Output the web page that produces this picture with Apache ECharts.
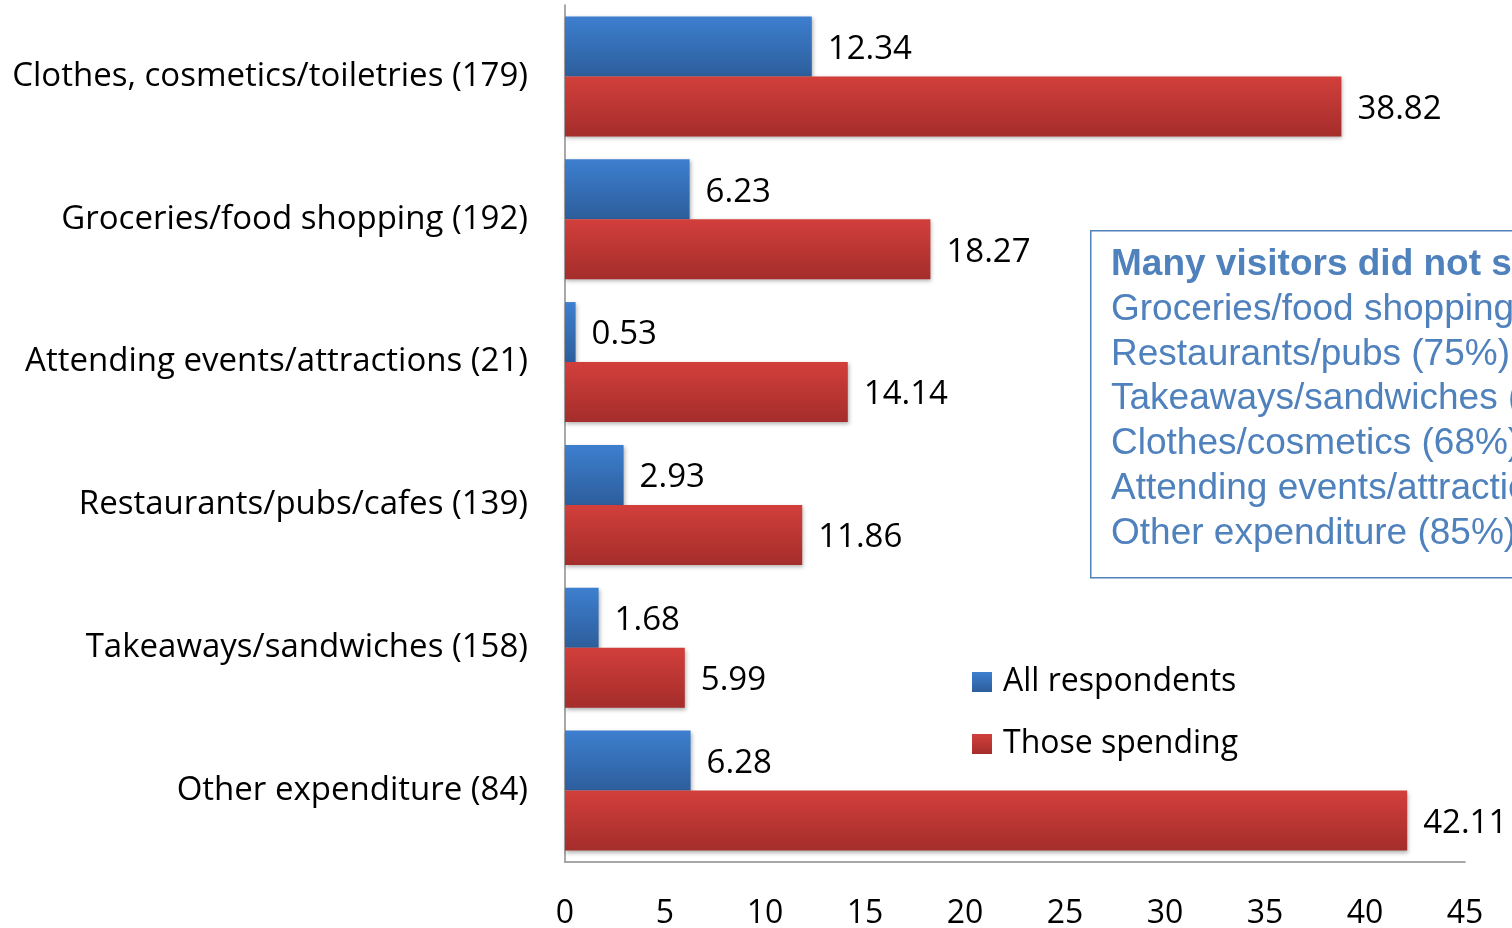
<!DOCTYPE html>
<html>
<head>
<meta charset="utf-8">
<script src="https://cdn.jsdelivr.net/npm/echarts@6/dist/echarts.min.js"></script>
<style>
html,body{margin:0;padding:0;background:#fff;}
#c{width:1512px;height:928px;}
</style>
</head>
<body>
<div id="c"></div>
<script>
const categories = [
  'Clothes, cosmetics/toiletries (179)',
  'Groceries/food shopping (192)',
  'Attending events/attractions (21)',
  'Restaurants/pubs/cafes (139)',
  'Takeaways/sandwiches (158)',
  'Other expenditure (84)'
];
const allRespondents = [12.34, 6.23, 0.53, 2.93, 1.68, 6.28];
const thoseSpending = [38.82, 18.27, 14.14, 11.86, 5.99, 42.11];
const xTicks = [0, 5, 10, 15, 20, 25, 30, 35, 40, 45];
const boxTitle = 'Many visitors did not spend on:';
const boxLines = [
  'Groceries/food shopping (66%)',
  'Restaurants/pubs (75%)',
  'Takeaways/sandwiches (72%)',
  'Clothes/cosmetics (68%)',
  'Attending events/attractions (96%)',
  'Other expenditure (85%)'
];

const FONT = '"Open Sans"';
const chart = echarts.init(document.getElementById('c'));
const blueGrad = new echarts.graphic.LinearGradient(0, 0, 0, 1, [
  {offset: 0, color: '#3d7fcf'}, {offset: 1, color: '#2d5e9c'}]);
const redGrad = new echarts.graphic.LinearGradient(0, 0, 0, 1, [
  {offset: 0, color: '#d23f3b'}, {offset: 1, color: '#a42d2b'}]);

const graphics = [{
  type: 'rect', left: 1090, top: 230,
  shape: {width: 600, height: 347},
  style: {fill: '#fff', stroke: '#4f81bd', lineWidth: 1.5}
}, {
  type: 'text', left: 1111, top: 262 - 16,
  style: {text: boxTitle, fill: '#4f81bd', font: 'bold 37px "Liberation Sans", Arial'}
}];
boxLines.forEach((t, i) => {
  graphics.push({
    type: 'text', left: 1111, top: 307 - 16 + i * 44.8,
    style: {text: t, fill: '#4f81bd', font: '37px "Liberation Sans", Arial'}
  });
});

chart.setOption({
  animation: false,
  textStyle: {fontFamily: FONT},
  grid: {left: 565, right: 47, top: 5, bottom: 66, containLabel: false, outerBoundsMode: 'none'},
  legend: {
    orient: 'vertical', left: 972, top: 666, padding: 0, itemWidth: 20, itemHeight: 20, itemGap: 30,
    icon: 'rect',
    textStyle: {fontSize: 32, color: '#000', fontFamily: FONT, padding: [0, 0, 0, 6]},
    data: ['All respondents', 'Those spending']
  },
  xAxis: {
    type: 'value', min: 0, max: 45, interval: 5,
    axisLine: {show: true, lineStyle: {color: '#8c8c8c', width: 1.5}},
    axisTick: {show: false}, splitLine: {show: false},
    axisLabel: {fontSize: 32, color: '#000', margin: 36,
      formatter: v => xTicks.includes(v) ? String(v) : ''}
  },
  yAxis: {
    type: 'category', data: categories, inverse: true,
    axisLine: {show: true, lineStyle: {color: '#8c8c8c', width: 1.5}},
    axisTick: {show: false},
    axisLabel: {fontSize: 33, color: '#000', margin: 37, padding: [4, 0, 0, 0]}
  },
  series: [{
    name: 'All respondents', type: 'bar', data: allRespondents,
    barWidth: 60, barGap: '0%',
    itemStyle: {color: blueGrad, shadowColor: 'rgba(0,0,0,0.3)', shadowBlur: 4, shadowOffsetX: 1, shadowOffsetY: 2},
    label: {show: true, position: 'right', distance: 16, fontSize: 33, color: '#000', fontFamily: FONT, offset: [0, 3]}
  }, {
    name: 'Those spending', type: 'bar', data: thoseSpending,
    barWidth: 60, barGap: '0%',
    itemStyle: {color: redGrad, shadowColor: 'rgba(0,0,0,0.3)', shadowBlur: 4, shadowOffsetX: 1, shadowOffsetY: 2},
    label: {show: true, position: 'right', distance: 16, fontSize: 33, color: '#000', fontFamily: FONT, offset: [0, 3]}
  }],
  graphic: graphics
});
</script>
</body>
</html>
